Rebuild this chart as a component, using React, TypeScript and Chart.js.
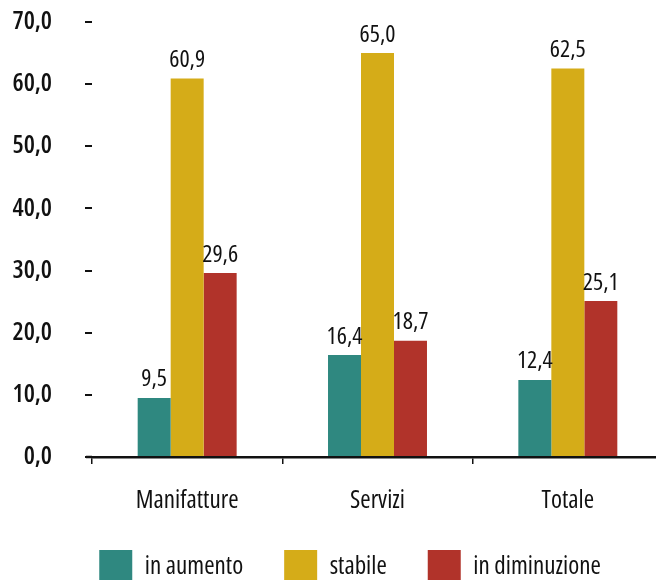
import React, { useEffect, useRef } from "react";
import { Chart, registerables } from "chart.js";

Chart.register(...registerables);

const categories = ["Manifatture", "Servizi", "Totale"];
const seriesNames = ["in aumento", "stabile", "in diminuzione"];
const inAumento = [9.5, 16.4, 12.4];
const stabile = [60.9, 65.0, 62.5];
const inDiminuzione = [29.6, 18.7, 25.1];
const seriesColors = ["#2F8880", "#D5AC18", "#B1332A"];
const yMin = 0;
const yMax = 70;
const yStep = 10;

const FAMILY = "'Open Sans', 'Roboto', sans-serif";
const TEXT = "#111";

const fmt = (v: number) => v.toFixed(1).replace(".", ",");

const valueLabels = {
  id: "valueLabels",
  afterDatasetsDraw(chart: any) {
    const ctx = chart.ctx;
    ctx.save();
    ctx.font = `500 condensed 24px ${FAMILY}`;
    ctx.fillStyle = TEXT;
    ctx.textAlign = "center";
    ctx.textBaseline = "alphabetic";
    chart.data.datasets.forEach((ds: any, i: number) => {
      const meta = chart.getDatasetMeta(i);
      meta.data.forEach((bar: any, j: number) => {
        ctx.fillText(fmt(ds.data[j]), bar.x, bar.y - 11.5);
      });
    });
    ctx.restore();
  },
};

const axisExtension = {
  id: "axisExtension",
  afterDraw(chart: any) {
    const { ctx, chartArea } = chart;
    ctx.save();
    ctx.strokeStyle = TEXT;
    ctx.lineWidth = 2.5;
    ctx.beginPath();
    ctx.moveTo(chartArea.left - 6, chartArea.bottom);
    ctx.lineTo(chartArea.left, chartArea.bottom);
    ctx.stroke();
    ctx.restore();
  },
};

export default function App() {
  const ref = useRef<HTMLCanvasElement>(null);
  useEffect(() => {
    if (!ref.current) return;
    const chart = new Chart(ref.current, {
      type: "bar",
      data: {
        labels: categories,
        datasets: [inAumento, stabile, inDiminuzione].map((d, i) => ({
          label: seriesNames[i],
          data: d,
          backgroundColor: seriesColors[i],
          borderWidth: 0,
          categoryPercentage: 0.52,
          barPercentage: 1.0,
          yAxisID: "y",
        })),
      },
      options: {
        responsive: false,
        animation: false,
        devicePixelRatio: 1,
        layout: { padding: { left: 0, top: 22, right: 0, bottom: 0 } },
        plugins: {
          tooltip: { enabled: false },
          legend: {
            position: "bottom",
            labels: {
              boxWidth: 33,
              boxHeight: 33,
              padding: 41,
              color: TEXT,
              font: { family: FAMILY, size: 25, weight: "430 condensed" as any },
            },
          },
        },
        scales: {
          x: {
            afterFit: (s: any) => { s.height = 52; },
            grid: {
              offset: true,
              drawOnChartArea: false,
              drawTicks: true,
              tickLength: 7,
              color: TEXT,
              lineWidth: 1.5,
            },
            border: { display: true, color: TEXT, width: 2.5 },
            ticks: {
              color: TEXT,
              padding: 22,
              font: { family: FAMILY, size: 25, weight: "430 condensed" as any },
            },
          },
          y: {
            position: "left",
            min: yMin,
            max: yMax,
            afterFit: (s: any) => {
              s.width = 92;
              s.paddingTop = 15;
              s.paddingBottom = 15;
            },
            grid: {
              drawOnChartArea: false,
              drawTicks: true,
              tickLength: 7,
              color: TEXT,
              lineWidth: 2,
            },
            border: { display: false },
            ticks: {
              stepSize: yStep,
              padding: 33,
              color: TEXT,
              font: { family: FAMILY, size: 25, weight: "560 condensed" as any },
              callback: (v: any) => fmt(Number(v)),
            },
          },
          spacer: {
            type: "linear",
            position: "right",
            display: true,
            afterFit: (s: any) => {
              s.width = 37;
              s.paddingTop = 0;
              s.paddingBottom = 0;
            },
            grid: { display: false, drawTicks: false },
            border: { display: false },
            ticks: { display: false },
          },
        },
      },
      plugins: [valueLabels, axisExtension],
    });
    return () => chart.destroy();
  }, []);
  return (
    <div style={{ position: "absolute", left: 0, top: 0, width: 656, height: 580, overflow: "hidden", background: "#fff" }}>
      <canvas ref={ref} width={700} height={593} style={{ display: "block" }} />
    </div>
  );
}
